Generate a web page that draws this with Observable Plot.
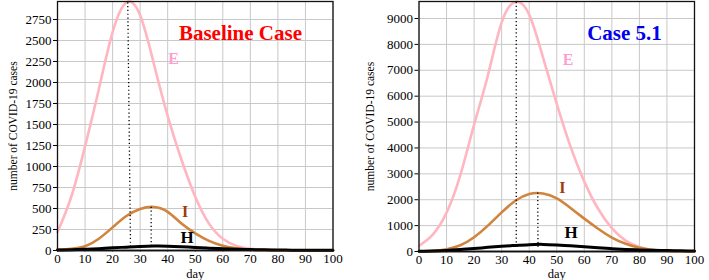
<!DOCTYPE html>
<html>
<head>
<meta charset="utf-8">
<script src="https://cdn.jsdelivr.net/npm/d3@7"></script>
<script src="https://cdn.jsdelivr.net/npm/@observablehq/plot@0.6"></script>
<style>
  html, body { margin: 0; padding: 0; background: #fff; }
  #wrap { display: flex; flex-direction: row; width: 709px; height: 280px; }
  #wrap svg text { font-family: "Liberation Serif", "DejaVu Serif", serif !important; }
</style>
</head>
<body>
<div id="wrap"></div>
<script>
// ---- data ----
const days = [0, 5, 10, 15, 20, 25, 30, 35, 40, 45, 50, 55, 60, 65, 70, 75, 80, 85, 90, 95, 100];

// Baseline Case
const baseE = [220, 640, 1240, 1920, 2600, 2950, 2800, 2220, 1600, 1080, 640, 320, 140, 55, 20, 8, 3, 1, 0, 0, 0];
const baseI = [10, 20, 50, 140, 275, 410, 495, 518, 460, 320, 205, 115, 57, 27, 12, 6, 3, 1, 0, 0, 0];
const baseH = [5, 8, 14, 22, 32, 40, 48, 53, 52, 45, 36, 28, 21, 15, 11, 8, 6, 4, 3, 2, 2];

// Case 5.1
const c51E = [220, 650, 1500, 2950, 4900, 6800, 8850, 9640, 9150, 7500, 5700, 4050, 2700, 1650, 900, 420, 170, 60, 20, 6, 2];
const c51I = [10, 30, 90, 240, 550, 1000, 1510, 1960, 2220, 2240, 2050, 1680, 1270, 880, 540, 300, 145, 60, 25, 10, 4];
const c51H = [10, 20, 40, 75, 115, 160, 200, 235, 265, 275, 255, 225, 185, 145, 110, 80, 60, 45, 35, 25, 18];

// peak marker (dotted) lines: [dayTop, valueTop, dayBottom, valueBottom]
const basePeaks = [[25.5, 2955, 26.5, 40], [34, 520, 34, 50]];
const c51Peaks = [[35.3, 9640, 35.3, 230], [43.1, 2280, 43.2, 100]];

// tick labels
const xTicks = [0, 10, 20, 30, 40, 50, 60, 70, 80, 90, 100];
const yTicksBase = [0, 250, 500, 750, 1000, 1250, 1500, 1750, 2000, 2250, 2500, 2750];
const yTicks51 = [0, 1000, 2000, 3000, 4000, 5000, 6000, 7000, 8000, 9000];

const serif = "Liberation Serif, DejaVu Serif, serif";

function series(vals) { return days.map((d, i) => ({day: d, v: vals[i]})); }

function panel(cfg) {
  const lineOpts = (stroke, w) => ({x: "day", y: "v", curve: "natural", stroke, strokeWidth: w});
  return Plot.plot({
    width: cfg.width,
    height: 280,
    marginLeft: cfg.marginLeft,
    marginRight: cfg.marginRight,
    marginTop: 1,
    marginBottom: cfg.marginBottom,
    style: {fontFamily: serif, fontSize: "13px", color: "black", background: "white"},
    x: {domain: [0, 100], ticks: xTicks, tickSize: 2, tickPadding: 1, tickFormat: "d", label: null},
    y: {domain: [0, cfg.yMax], ticks: cfg.yTicks, tickSize: 4, tickPadding: 2, tickFormat: "d", label: null},
    marks: [
      Plot.ruleX(xTicks, {stroke: "#c8c8c8", strokeWidth: 1}),
      Plot.ruleY(cfg.yTicks, {stroke: "#c8c8c8", strokeWidth: 1}),
      Plot.ruleY([0], {stroke: "#888", strokeWidth: 2.5}),
      Plot.line(series(cfg.E), lineOpts("#ffb6c1", 2.6)),
      Plot.line(series(cfg.I), lineOpts("#d0843c", 2.6)),
      Plot.line(series(cfg.H), lineOpts("#000", 3)),
      Plot.link(cfg.peaks, {x1: d => d[0], y1: d => d[1], x2: d => d[2], y2: d => d[3],
        stroke: "#000", strokeWidth: 1.3, strokeDasharray: "1.2,2.6"}),
      Plot.frame({stroke: "#111", strokeWidth: 1.3}),
      Plot.text([cfg.title], {x: cfg.titlePos[0], y: cfg.titlePos[1], fill: cfg.titleColor,
        fontSize: 21, fontWeight: "bold"}),
      Plot.text(["E"], {x: cfg.ePos[0], y: cfg.ePos[1], fill: "#ff9fcf", fontSize: 16, fontWeight: "bold"}),
      Plot.text(["I"], {x: cfg.iPos[0], y: cfg.iPos[1], fill: "#a03a0c", fontSize: 16, fontWeight: "bold"}),
      Plot.text(["H"], {x: cfg.hPos[0], y: cfg.hPos[1], fill: "#000", fontSize: 17, fontWeight: "bold"}),
      Plot.text(["number of COVID-19 cases"], {frameAnchor: "left", rotate: -90, dx: cfg.yLabelDx,
        textAnchor: "middle", lineAnchor: "middle", fontSize: 11.5, fill: "#000"}),
      Plot.text(["day"], {frameAnchor: "bottom", dy: cfg.dayDy, lineAnchor: "middle", fontSize: 12.5, fill: "#000"})
    ]
  });
}

const wrap = document.getElementById("wrap");
wrap.appendChild(panel({
  width: 355, marginLeft: 57, marginRight: 22.5, marginBottom: 30,
  yMax: 2964, yTicks: yTicksBase,
  E: baseE, I: baseI, H: baseH, peaks: basePeaks,
  title: "Baseline Case", titleColor: "#ff0000", titlePos: [66.4, 2590],
  ePos: [42.1, 2286], iPos: [46.3, 464], hPos: [47, 149],
  yLabelDx: -44, dayDy: 23
}));
wrap.appendChild(panel({
  width: 354, marginLeft: 63.5, marginRight: 15, marginBottom: 29,
  yMax: 9657, yTicks: yTicks51,
  E: c51E, I: c51I, H: c51H, peaks: c51Peaks,
  title: "Case 5.1", titleColor: "#0000ee", titlePos: [74.6, 8434],
  ePos: [54.1, 7411], iPos: [52, 2451], hPos: [55.2, 714],
  yLabelDx: -48.5, dayDy: 22.5
}));
</script>
</body>
</html>
